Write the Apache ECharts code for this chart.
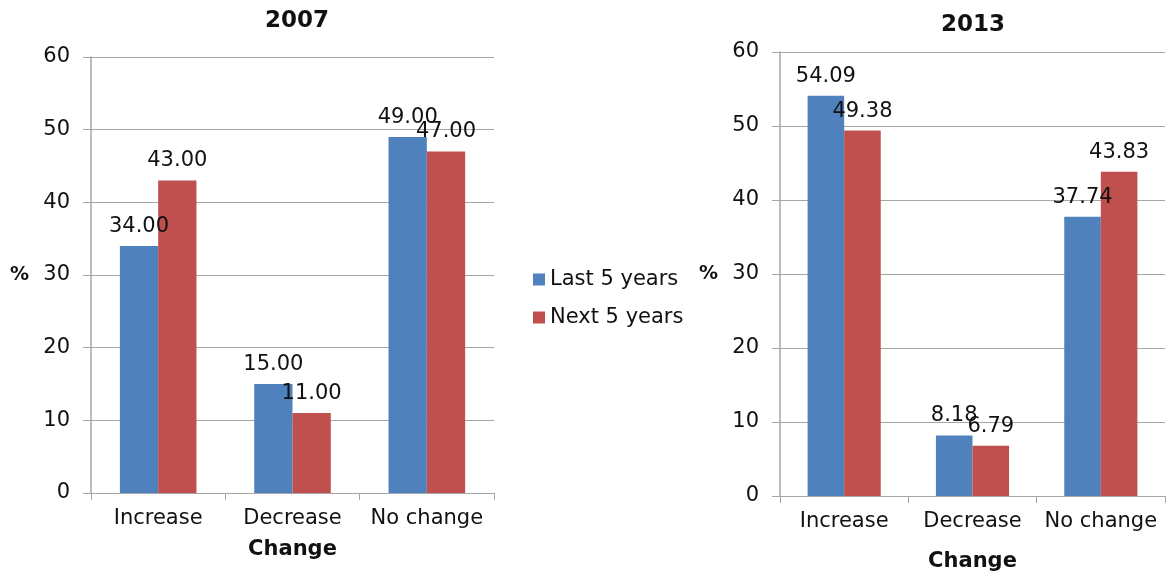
<!DOCTYPE html>
<html>
<head>
<meta charset="utf-8">
<script src="https://cdn.jsdelivr.net/npm/echarts@6/dist/echarts.min.js"></script>
<style>
  html, body { margin: 0; padding: 0; background: #ffffff; }
  #chart { width: 1166px; height: 574px; }
</style>
</head>
<body>
<div id="chart"></div>
<script>
const categories = ['Increase', 'Decrease', 'No change'];
const seriesNames = ['Last 5 years', 'Next 5 years'];
const last2007 = [34, 15, 49];
const next2007 = [43, 11, 47];
const last2013 = [54.09, 8.18, 37.74];
const next2013 = [49.38, 6.79, 43.83];
const titles = ['2007', '2013'];
const yName = '%';
const xName = 'Change';

const FONT = 'DejaVu Sans';
const TXT = '#111111';
const GRIDC = '#a6a6a6';
const BLUE = '#4F81BD';
const RED = '#C0504D';

function xAx(gridIndex, nameGap) {
  return {
    type: 'category', gridIndex: gridIndex, data: categories,
    name: xName, nameLocation: 'middle', nameGap: nameGap,
    nameTextStyle: { fontFamily: FONT, fontSize: 21, fontWeight: 'bold', color: TXT },
    axisLine: { show: true, lineStyle: { color: GRIDC, width: 1 } },
    axisTick: { show: true, length: 7, lineStyle: { color: GRIDC } },
    axisLabel: { fontFamily: FONT, fontSize: 21, color: TXT, margin: 15, interval: 0, hideOverlap: false }
  };
}
function yAx(gridIndex) {
  return {
    type: 'value', gridIndex: gridIndex, min: 0, max: 60, interval: 10,
    name: yName, nameLocation: 'middle', nameGap: 62, nameRotate: 0,
    nameTextStyle: { fontFamily: FONT, fontSize: 19, fontWeight: 'bold', color: TXT },
    axisLine: { show: true, lineStyle: { color: GRIDC, width: 1.5 } },
    axisTick: { show: true, length: 8, lineStyle: { color: GRIDC } },
    splitLine: { show: true, lineStyle: { color: GRIDC, width: 1 } },
    axisLabel: { fontFamily: FONT, fontSize: 21, color: TXT, margin: 21 }
  };
}
function bar(name, data, idx, color) {
  return {
    name: name, type: 'bar', xAxisIndex: idx, yAxisIndex: idx, data: data,
    barGap: '0%', barCategoryGap: '43%',
    itemStyle: { color: color },
    label: {
      show: true, position: 'top', distance: 9,
      fontFamily: FONT, fontSize: 21, color: TXT,
      formatter: p => p.value.toFixed(2)
    }
  };
}

const chart = echarts.init(document.getElementById('chart'), null, { renderer: 'canvas' });
chart.setOption({
  animation: false,
  backgroundColor: '#ffffff',
  title: [
    { text: titles[0], left: 292, top: 5, textAlign: 'center',
      textStyle: { fontFamily: FONT, fontSize: 23, fontWeight: 'bold', color: TXT } },
    { text: titles[1], left: 968, top: 9, textAlign: 'center',
      textStyle: { fontFamily: FONT, fontSize: 23, fontWeight: 'bold', color: TXT } }
  ],
  legend: {
    data: seriesNames, orient: 'vertical', left: 533, top: 269, padding: 0,
    icon: 'rect', itemWidth: 12, itemHeight: 12, itemGap: 17,
    textStyle: { fontFamily: FONT, fontSize: 21, color: TXT }
  },
  grid: [
    { left: 91, right: 672, top: 57, bottom: 81, outerBoundsMode: 'none', containLabel: false },
    { left: 780, right: 1, top: 52, bottom: 78, outerBoundsMode: 'none', containLabel: false }
  ],
  xAxis: [xAx(0, 46), xAx(1, 55)],
  yAxis: [yAx(0), yAx(1)],
  series: [
    bar(seriesNames[0], last2007, 0, BLUE),
    bar(seriesNames[1], next2007, 0, RED),
    bar(seriesNames[0], last2013, 1, BLUE),
    bar(seriesNames[1], next2013, 1, RED)
  ]
});
</script>
</body>
</html>
